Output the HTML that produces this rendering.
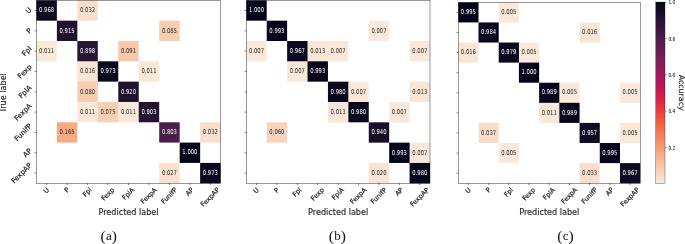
<!DOCTYPE html>
<html><head><meta charset="utf-8"><title>Confusion matrices</title>
<style>
html,body{margin:0;padding:0;background:#fff;}
body{width:685px;height:244px;overflow:hidden;}
svg{display:block;font-family:"DejaVu Sans","Liberation Sans",sans-serif;}
</style></head><body>
<svg width="685" height="244" viewBox="0 0 685 244">
<rect width="685" height="244" fill="#fff"/>
<rect x="36.40" y="0.35" width="20.47" height="20.32" fill="#0d0a21"/>
<rect x="77.33" y="0.35" width="20.47" height="20.32" fill="#f9dfcb"/>
<rect x="56.87" y="20.67" width="20.47" height="20.32" fill="#20122e"/>
<rect x="159.20" y="20.67" width="20.47" height="20.32" fill="#f7ccaf"/>
<rect x="36.40" y="40.99" width="20.47" height="20.32" fill="#fae8d8"/>
<rect x="77.33" y="40.99" width="20.47" height="20.82" fill="#271534"/>
<rect x="118.27" y="40.99" width="20.47" height="20.32" fill="#f7c9aa"/>
<rect x="77.33" y="61.32" width="20.97" height="20.82" fill="#f9e5d4"/>
<rect x="97.80" y="61.32" width="20.47" height="20.32" fill="#0a091f"/>
<rect x="138.73" y="61.32" width="20.47" height="20.32" fill="#fae8d8"/>
<rect x="77.33" y="81.64" width="20.47" height="20.82" fill="#f7cdb1"/>
<rect x="118.27" y="81.64" width="20.47" height="20.82" fill="#1e122d"/>
<rect x="77.33" y="101.96" width="20.97" height="20.32" fill="#fae8d8"/>
<rect x="97.80" y="101.96" width="20.97" height="20.32" fill="#f7cfb3"/>
<rect x="118.27" y="101.96" width="20.97" height="20.32" fill="#fae8d8"/>
<rect x="138.73" y="101.96" width="20.47" height="20.32" fill="#241432"/>
<rect x="56.87" y="122.28" width="20.47" height="20.32" fill="#f6ab83"/>
<rect x="159.20" y="122.28" width="20.47" height="20.32" fill="#4b1d4a"/>
<rect x="200.13" y="122.28" width="20.47" height="20.32" fill="#f9dfcb"/>
<rect x="179.67" y="142.61" width="20.47" height="20.32" fill="#03051a"/>
<rect x="159.20" y="162.93" width="20.47" height="20.32" fill="#f9e2d0"/>
<rect x="200.13" y="162.93" width="20.47" height="20.32" fill="#0a091f"/>
<text transform="translate(46.63,12.23) scale(0.8,1)" font-size="6.6" text-anchor="middle" fill="#ffffff" >0.968</text>
<text transform="translate(87.57,12.23) scale(0.8,1)" font-size="6.6" text-anchor="middle" fill="#262626" >0.032</text>
<text transform="translate(67.10,32.55) scale(0.8,1)" font-size="6.6" text-anchor="middle" fill="#ffffff" >0.915</text>
<text transform="translate(169.43,32.55) scale(0.8,1)" font-size="6.6" text-anchor="middle" fill="#262626" >0.085</text>
<text transform="translate(46.63,52.87) scale(0.8,1)" font-size="6.6" text-anchor="middle" fill="#262626" >0.011</text>
<text transform="translate(87.57,52.87) scale(0.8,1)" font-size="6.6" text-anchor="middle" fill="#ffffff" >0.898</text>
<text transform="translate(128.50,52.87) scale(0.8,1)" font-size="6.6" text-anchor="middle" fill="#262626" >0.091</text>
<text transform="translate(87.57,73.19) scale(0.8,1)" font-size="6.6" text-anchor="middle" fill="#262626" >0.016</text>
<text transform="translate(108.03,73.19) scale(0.8,1)" font-size="6.6" text-anchor="middle" fill="#ffffff" >0.973</text>
<text transform="translate(148.97,73.19) scale(0.8,1)" font-size="6.6" text-anchor="middle" fill="#262626" >0.011</text>
<text transform="translate(87.57,93.52) scale(0.8,1)" font-size="6.6" text-anchor="middle" fill="#262626" >0.080</text>
<text transform="translate(128.50,93.52) scale(0.8,1)" font-size="6.6" text-anchor="middle" fill="#ffffff" >0.920</text>
<text transform="translate(87.57,113.84) scale(0.8,1)" font-size="6.6" text-anchor="middle" fill="#262626" >0.011</text>
<text transform="translate(108.03,113.84) scale(0.8,1)" font-size="6.6" text-anchor="middle" fill="#262626" >0.075</text>
<text transform="translate(128.50,113.84) scale(0.8,1)" font-size="6.6" text-anchor="middle" fill="#262626" >0.011</text>
<text transform="translate(148.97,113.84) scale(0.8,1)" font-size="6.6" text-anchor="middle" fill="#ffffff" >0.903</text>
<text transform="translate(67.10,134.16) scale(0.8,1)" font-size="6.6" text-anchor="middle" fill="#262626" >0.165</text>
<text transform="translate(169.43,134.16) scale(0.8,1)" font-size="6.6" text-anchor="middle" fill="#ffffff" >0.803</text>
<text transform="translate(210.37,134.16) scale(0.8,1)" font-size="6.6" text-anchor="middle" fill="#262626" >0.032</text>
<text transform="translate(189.90,154.48) scale(0.8,1)" font-size="6.6" text-anchor="middle" fill="#ffffff" >1.000</text>
<text transform="translate(169.43,174.80) scale(0.8,1)" font-size="6.6" text-anchor="middle" fill="#262626" >0.027</text>
<text transform="translate(210.37,174.80) scale(0.8,1)" font-size="6.6" text-anchor="middle" fill="#ffffff" >0.973</text>
<rect x="36.40" y="0.35" width="184.20" height="182.90" fill="none" stroke="#000" stroke-width="0.4"/>
<path d="M46.63 183.25v1.8M36.40 10.51h-1.8" stroke="#000" stroke-width="0.5" fill="none"/>
<text transform="translate(46.22,193.71) rotate(-45)" font-size="6.5" text-anchor="start" fill="#262626" stroke="#262626" stroke-width="0.22">U</text>
<text transform="translate(28.54,13.98) rotate(-45)" font-size="7.0" text-anchor="start" fill="#262626" stroke="#262626" stroke-width="0.22">U</text>
<path d="M67.10 183.25v1.8M36.40 30.83h-1.8" stroke="#000" stroke-width="0.5" fill="none"/>
<text transform="translate(66.98,193.11) rotate(-45)" font-size="6.5" text-anchor="start" fill="#262626" stroke="#262626" stroke-width="0.22">P</text>
<text transform="translate(29.18,33.99) rotate(-45)" font-size="7.0" text-anchor="start" fill="#262626" stroke="#262626" stroke-width="0.22">P</text>
<path d="M87.57 183.25v1.8M36.40 51.16h-1.8" stroke="#000" stroke-width="0.5" fill="none"/>
<text transform="translate(85.41,197.18) rotate(-45)" font-size="6.5" text-anchor="start" fill="#262626" stroke="#262626" stroke-width="0.22">Fpl</text>
<text transform="translate(24.80,56.50) rotate(-45)" font-size="7.0" text-anchor="start" fill="#262626" stroke="#262626" stroke-width="0.22">Fpl</text>
<path d="M108.03 183.25v1.8M36.40 71.48h-1.8" stroke="#000" stroke-width="0.5" fill="none"/>
<text transform="translate(103.91,201.12) rotate(-45)" font-size="6.5" text-anchor="start" fill="#262626" stroke="#262626" stroke-width="0.22">Fexp</text>
<text transform="translate(20.55,78.94) rotate(-45)" font-size="7.0" text-anchor="start" fill="#262626" stroke="#262626" stroke-width="0.22">Fexp</text>
<path d="M128.50 183.25v1.8M36.40 91.80h-1.8" stroke="#000" stroke-width="0.5" fill="none"/>
<text transform="translate(124.77,200.33) rotate(-45)" font-size="6.5" text-anchor="start" fill="#262626" stroke="#262626" stroke-width="0.22">FplA</text>
<text transform="translate(21.41,98.84) rotate(-45)" font-size="7.0" text-anchor="start" fill="#262626" stroke="#262626" stroke-width="0.22">FplA</text>
<path d="M148.97 183.25v1.8M36.40 112.12h-1.8" stroke="#000" stroke-width="0.5" fill="none"/>
<text transform="translate(143.27,204.26) rotate(-45)" font-size="6.5" text-anchor="start" fill="#262626" stroke="#262626" stroke-width="0.22">FexpA</text>
<text transform="translate(17.17,121.28) rotate(-45)" font-size="7.0" text-anchor="start" fill="#262626" stroke="#262626" stroke-width="0.22">FexpA</text>
<path d="M169.43 183.25v1.8M36.40 132.44h-1.8" stroke="#000" stroke-width="0.5" fill="none"/>
<text transform="translate(163.75,204.23) rotate(-45)" font-size="6.5" text-anchor="start" fill="#262626" stroke="#262626" stroke-width="0.22">FunifP</text>
<text transform="translate(17.21,141.58) rotate(-45)" font-size="7.0" text-anchor="start" fill="#262626" stroke="#262626" stroke-width="0.22">FunifP</text>
<path d="M189.90 183.25v1.8M36.40 152.77h-1.8" stroke="#000" stroke-width="0.5" fill="none"/>
<text transform="translate(188.21,196.26) rotate(-45)" font-size="6.5" text-anchor="start" fill="#262626" stroke="#262626" stroke-width="0.22">AP</text>
<text transform="translate(25.79,157.61) rotate(-45)" font-size="7.0" text-anchor="start" fill="#262626" stroke="#262626" stroke-width="0.22">AP</text>
<path d="M210.37 183.25v1.8M36.40 173.09h-1.8" stroke="#000" stroke-width="0.5" fill="none"/>
<text transform="translate(203.28,207.04) rotate(-45)" font-size="6.5" text-anchor="start" fill="#262626" stroke="#262626" stroke-width="0.22">FexpAP</text>
<text transform="translate(14.18,183.74) rotate(-45)" font-size="7.0" text-anchor="start" fill="#262626" stroke="#262626" stroke-width="0.22">FexpAP</text>
<text x="128.50" y="215.0" font-size="8.1" text-anchor="middle" fill="#262626" stroke="#262626" stroke-width="0.15">Predicted label</text>
<text transform="translate(6.20,92.80) rotate(-90)" font-size="8.1" text-anchor="middle" fill="#262626" stroke="#262626" stroke-width="0.15">True label</text>
<text x="108.9" y="240.2" text-anchor="middle" fill="#111" letter-spacing="0.15" font-family="'Liberation Serif', serif"><tspan font-size="15.6" dy="0.8">(</tspan><tspan font-size="13.0" dy="-0.8">a</tspan><tspan font-size="15.6" dy="0.8">)</tspan></text>
<rect x="246.30" y="0.35" width="20.41" height="20.33" fill="#03051a"/>
<rect x="266.71" y="20.68" width="20.41" height="20.33" fill="#04051a"/>
<rect x="368.77" y="20.68" width="20.41" height="20.33" fill="#fae9da"/>
<rect x="246.30" y="41.01" width="20.41" height="20.33" fill="#fae9da"/>
<rect x="287.12" y="41.01" width="20.91" height="20.83" fill="#0d0a21"/>
<rect x="307.53" y="41.01" width="20.91" height="20.83" fill="#fae6d6"/>
<rect x="327.94" y="41.01" width="20.41" height="20.33" fill="#fae9da"/>
<rect x="409.59" y="41.01" width="20.41" height="20.33" fill="#fae9da"/>
<rect x="287.12" y="61.33" width="20.91" height="20.33" fill="#fae9da"/>
<rect x="307.53" y="61.33" width="20.41" height="20.33" fill="#04051a"/>
<rect x="327.94" y="81.66" width="20.91" height="20.83" fill="#08081e"/>
<rect x="348.36" y="81.66" width="20.41" height="20.83" fill="#fae9da"/>
<rect x="409.59" y="81.66" width="20.41" height="20.33" fill="#fae6d6"/>
<rect x="327.94" y="101.99" width="20.91" height="20.33" fill="#fae6d6"/>
<rect x="348.36" y="101.99" width="20.41" height="20.33" fill="#08081e"/>
<rect x="389.18" y="101.99" width="20.41" height="20.33" fill="#fae9da"/>
<rect x="266.71" y="122.32" width="20.41" height="20.33" fill="#f8d4bc"/>
<rect x="368.77" y="122.32" width="20.41" height="20.33" fill="#170f28"/>
<rect x="389.18" y="142.64" width="20.91" height="20.33" fill="#04051a"/>
<rect x="409.59" y="142.64" width="20.41" height="20.83" fill="#fae9da"/>
<rect x="368.77" y="162.97" width="20.41" height="20.33" fill="#f9e3d2"/>
<rect x="409.59" y="162.97" width="20.41" height="20.33" fill="#08081e"/>
<text transform="translate(256.51,12.23) scale(0.8,1)" font-size="6.6" text-anchor="middle" fill="#ffffff" >1.000</text>
<text transform="translate(276.92,32.56) scale(0.8,1)" font-size="6.6" text-anchor="middle" fill="#ffffff" >0.993</text>
<text transform="translate(378.97,32.56) scale(0.8,1)" font-size="6.6" text-anchor="middle" fill="#262626" >0.007</text>
<text transform="translate(256.51,52.89) scale(0.8,1)" font-size="6.6" text-anchor="middle" fill="#262626" >0.007</text>
<text transform="translate(297.33,52.89) scale(0.8,1)" font-size="6.6" text-anchor="middle" fill="#ffffff" >0.967</text>
<text transform="translate(317.74,52.89) scale(0.8,1)" font-size="6.6" text-anchor="middle" fill="#262626" >0.013</text>
<text transform="translate(338.15,52.89) scale(0.8,1)" font-size="6.6" text-anchor="middle" fill="#262626" >0.007</text>
<text transform="translate(419.79,52.89) scale(0.8,1)" font-size="6.6" text-anchor="middle" fill="#262626" >0.007</text>
<text transform="translate(297.33,73.21) scale(0.8,1)" font-size="6.6" text-anchor="middle" fill="#262626" >0.007</text>
<text transform="translate(317.74,73.21) scale(0.8,1)" font-size="6.6" text-anchor="middle" fill="#ffffff" >0.993</text>
<text transform="translate(338.15,93.54) scale(0.8,1)" font-size="6.6" text-anchor="middle" fill="#ffffff" >0.980</text>
<text transform="translate(358.56,93.54) scale(0.8,1)" font-size="6.6" text-anchor="middle" fill="#262626" >0.007</text>
<text transform="translate(419.79,93.54) scale(0.8,1)" font-size="6.6" text-anchor="middle" fill="#262626" >0.013</text>
<text transform="translate(338.15,113.87) scale(0.8,1)" font-size="6.6" text-anchor="middle" fill="#262626" >0.013</text>
<text transform="translate(358.56,113.87) scale(0.8,1)" font-size="6.6" text-anchor="middle" fill="#ffffff" >0.980</text>
<text transform="translate(399.38,113.87) scale(0.8,1)" font-size="6.6" text-anchor="middle" fill="#262626" >0.007</text>
<text transform="translate(276.92,134.20) scale(0.8,1)" font-size="6.6" text-anchor="middle" fill="#262626" >0.060</text>
<text transform="translate(378.97,134.20) scale(0.8,1)" font-size="6.6" text-anchor="middle" fill="#ffffff" >0.940</text>
<text transform="translate(399.38,154.52) scale(0.8,1)" font-size="6.6" text-anchor="middle" fill="#ffffff" >0.993</text>
<text transform="translate(419.79,154.52) scale(0.8,1)" font-size="6.6" text-anchor="middle" fill="#262626" >0.007</text>
<text transform="translate(378.97,174.85) scale(0.8,1)" font-size="6.6" text-anchor="middle" fill="#262626" >0.020</text>
<text transform="translate(419.79,174.85) scale(0.8,1)" font-size="6.6" text-anchor="middle" fill="#ffffff" >0.980</text>
<rect x="246.30" y="0.35" width="183.70" height="182.95" fill="none" stroke="#000" stroke-width="0.4"/>
<path d="M256.51 183.30v1.8M246.30 10.51h-1.8" stroke="#000" stroke-width="0.5" fill="none"/>
<text transform="translate(256.09,193.76) rotate(-45)" font-size="6.5" text-anchor="start" fill="#262626" stroke="#262626" stroke-width="0.22">U</text>
<path d="M276.92 183.30v1.8M246.30 30.84h-1.8" stroke="#000" stroke-width="0.5" fill="none"/>
<text transform="translate(276.79,193.16) rotate(-45)" font-size="6.5" text-anchor="start" fill="#262626" stroke="#262626" stroke-width="0.22">P</text>
<path d="M297.33 183.30v1.8M246.30 51.17h-1.8" stroke="#000" stroke-width="0.5" fill="none"/>
<text transform="translate(295.17,197.23) rotate(-45)" font-size="6.5" text-anchor="start" fill="#262626" stroke="#262626" stroke-width="0.22">Fpl</text>
<path d="M317.74 183.30v1.8M246.30 71.50h-1.8" stroke="#000" stroke-width="0.5" fill="none"/>
<text transform="translate(313.61,201.17) rotate(-45)" font-size="6.5" text-anchor="start" fill="#262626" stroke="#262626" stroke-width="0.22">Fexp</text>
<path d="M338.15 183.30v1.8M246.30 91.83h-1.8" stroke="#000" stroke-width="0.5" fill="none"/>
<text transform="translate(334.42,200.38) rotate(-45)" font-size="6.5" text-anchor="start" fill="#262626" stroke="#262626" stroke-width="0.22">FplA</text>
<path d="M358.56 183.30v1.8M246.30 112.15h-1.8" stroke="#000" stroke-width="0.5" fill="none"/>
<text transform="translate(352.86,204.31) rotate(-45)" font-size="6.5" text-anchor="start" fill="#262626" stroke="#262626" stroke-width="0.22">FexpA</text>
<path d="M378.97 183.30v1.8M246.30 132.48h-1.8" stroke="#000" stroke-width="0.5" fill="none"/>
<text transform="translate(373.29,204.28) rotate(-45)" font-size="6.5" text-anchor="start" fill="#262626" stroke="#262626" stroke-width="0.22">FunifP</text>
<path d="M399.38 183.30v1.8M246.30 152.81h-1.8" stroke="#000" stroke-width="0.5" fill="none"/>
<text transform="translate(397.69,196.31) rotate(-45)" font-size="6.5" text-anchor="start" fill="#262626" stroke="#262626" stroke-width="0.22">AP</text>
<path d="M419.79 183.30v1.8M246.30 173.14h-1.8" stroke="#000" stroke-width="0.5" fill="none"/>
<text transform="translate(412.71,207.09) rotate(-45)" font-size="6.5" text-anchor="start" fill="#262626" stroke="#262626" stroke-width="0.22">FexpAP</text>
<text x="338.15" y="215.0" font-size="8.1" text-anchor="middle" fill="#262626" stroke="#262626" stroke-width="0.15">Predicted label</text>
<text x="337.5" y="240.2" text-anchor="middle" fill="#111" letter-spacing="0.15" font-family="'Liberation Serif', serif"><tspan font-size="15.6" dy="0.8">(</tspan><tspan font-size="13.0" dy="-0.8">b</tspan><tspan font-size="15.6" dy="0.8">)</tspan></text>
<rect x="458.30" y="2.35" width="20.21" height="20.09" fill="#04051a"/>
<rect x="498.72" y="2.35" width="20.21" height="20.09" fill="#fae9da"/>
<rect x="478.51" y="22.44" width="20.21" height="20.09" fill="#07071d"/>
<rect x="579.57" y="22.44" width="20.21" height="20.09" fill="#f9e5d4"/>
<rect x="458.30" y="42.54" width="20.21" height="20.09" fill="#f9e5d4"/>
<rect x="498.72" y="42.54" width="20.71" height="20.09" fill="#08081e"/>
<rect x="518.93" y="42.54" width="20.21" height="20.59" fill="#fae9da"/>
<rect x="518.93" y="62.63" width="20.21" height="20.09" fill="#03051a"/>
<rect x="539.14" y="82.73" width="20.71" height="20.59" fill="#05061b"/>
<rect x="559.36" y="82.73" width="20.21" height="20.59" fill="#fae9da"/>
<rect x="619.99" y="82.73" width="20.21" height="20.09" fill="#fae9da"/>
<rect x="539.14" y="102.82" width="20.71" height="20.09" fill="#fae8d8"/>
<rect x="559.36" y="102.82" width="20.21" height="20.09" fill="#05061b"/>
<rect x="478.51" y="122.92" width="20.21" height="20.09" fill="#f9ddc9"/>
<rect x="579.57" y="122.92" width="20.21" height="20.09" fill="#110c24"/>
<rect x="619.99" y="122.92" width="20.21" height="20.09" fill="#fae9da"/>
<rect x="498.72" y="143.01" width="20.21" height="20.09" fill="#fae9da"/>
<rect x="599.78" y="143.01" width="20.21" height="20.09" fill="#04051a"/>
<rect x="579.57" y="163.11" width="20.21" height="20.09" fill="#f9dfcb"/>
<rect x="619.99" y="163.11" width="20.21" height="20.09" fill="#0d0a21"/>
<text transform="translate(468.41,14.11) scale(0.8,1)" font-size="6.6" text-anchor="middle" fill="#ffffff" >0.995</text>
<text transform="translate(508.83,14.11) scale(0.8,1)" font-size="6.6" text-anchor="middle" fill="#262626" >0.005</text>
<text transform="translate(488.62,34.21) scale(0.8,1)" font-size="6.6" text-anchor="middle" fill="#ffffff" >0.984</text>
<text transform="translate(589.67,34.21) scale(0.8,1)" font-size="6.6" text-anchor="middle" fill="#262626" >0.016</text>
<text transform="translate(468.41,54.30) scale(0.8,1)" font-size="6.6" text-anchor="middle" fill="#262626" >0.016</text>
<text transform="translate(508.83,54.30) scale(0.8,1)" font-size="6.6" text-anchor="middle" fill="#ffffff" >0.979</text>
<text transform="translate(529.04,54.30) scale(0.8,1)" font-size="6.6" text-anchor="middle" fill="#262626" >0.005</text>
<text transform="translate(529.04,74.40) scale(0.8,1)" font-size="6.6" text-anchor="middle" fill="#ffffff" >1.000</text>
<text transform="translate(549.25,94.49) scale(0.8,1)" font-size="6.6" text-anchor="middle" fill="#ffffff" >0.989</text>
<text transform="translate(569.46,94.49) scale(0.8,1)" font-size="6.6" text-anchor="middle" fill="#262626" >0.005</text>
<text transform="translate(630.09,94.49) scale(0.8,1)" font-size="6.6" text-anchor="middle" fill="#262626" >0.005</text>
<text transform="translate(549.25,114.59) scale(0.8,1)" font-size="6.6" text-anchor="middle" fill="#262626" >0.011</text>
<text transform="translate(569.46,114.59) scale(0.8,1)" font-size="6.6" text-anchor="middle" fill="#ffffff" >0.989</text>
<text transform="translate(488.62,134.68) scale(0.8,1)" font-size="6.6" text-anchor="middle" fill="#262626" >0.037</text>
<text transform="translate(589.67,134.68) scale(0.8,1)" font-size="6.6" text-anchor="middle" fill="#ffffff" >0.957</text>
<text transform="translate(630.09,134.68) scale(0.8,1)" font-size="6.6" text-anchor="middle" fill="#262626" >0.005</text>
<text transform="translate(508.83,154.77) scale(0.8,1)" font-size="6.6" text-anchor="middle" fill="#262626" >0.005</text>
<text transform="translate(609.88,154.77) scale(0.8,1)" font-size="6.6" text-anchor="middle" fill="#ffffff" >0.995</text>
<text transform="translate(589.67,174.87) scale(0.8,1)" font-size="6.6" text-anchor="middle" fill="#262626" >0.033</text>
<text transform="translate(630.09,174.87) scale(0.8,1)" font-size="6.6" text-anchor="middle" fill="#ffffff" >0.967</text>
<rect x="458.30" y="2.35" width="181.90" height="180.85" fill="none" stroke="#000" stroke-width="0.4"/>
<path d="M468.41 183.20v1.8M458.30 12.40h-1.8" stroke="#000" stroke-width="0.5" fill="none"/>
<text transform="translate(467.99,193.66) rotate(-45)" font-size="6.5" text-anchor="start" fill="#262626" stroke="#262626" stroke-width="0.22">U</text>
<path d="M488.62 183.20v1.8M458.30 32.49h-1.8" stroke="#000" stroke-width="0.5" fill="none"/>
<text transform="translate(488.49,193.06) rotate(-45)" font-size="6.5" text-anchor="start" fill="#262626" stroke="#262626" stroke-width="0.22">P</text>
<path d="M508.83 183.20v1.8M458.30 52.59h-1.8" stroke="#000" stroke-width="0.5" fill="none"/>
<text transform="translate(506.67,197.13) rotate(-45)" font-size="6.5" text-anchor="start" fill="#262626" stroke="#262626" stroke-width="0.22">Fpl</text>
<path d="M529.04 183.20v1.8M458.30 72.68h-1.8" stroke="#000" stroke-width="0.5" fill="none"/>
<text transform="translate(524.91,201.07) rotate(-45)" font-size="6.5" text-anchor="start" fill="#262626" stroke="#262626" stroke-width="0.22">Fexp</text>
<path d="M549.25 183.20v1.8M458.30 92.77h-1.8" stroke="#000" stroke-width="0.5" fill="none"/>
<text transform="translate(545.52,200.28) rotate(-45)" font-size="6.5" text-anchor="start" fill="#262626" stroke="#262626" stroke-width="0.22">FplA</text>
<path d="M569.46 183.20v1.8M458.30 112.87h-1.8" stroke="#000" stroke-width="0.5" fill="none"/>
<text transform="translate(563.76,204.21) rotate(-45)" font-size="6.5" text-anchor="start" fill="#262626" stroke="#262626" stroke-width="0.22">FexpA</text>
<path d="M589.67 183.20v1.8M458.30 132.96h-1.8" stroke="#000" stroke-width="0.5" fill="none"/>
<text transform="translate(583.99,204.18) rotate(-45)" font-size="6.5" text-anchor="start" fill="#262626" stroke="#262626" stroke-width="0.22">FunifP</text>
<path d="M609.88 183.20v1.8M458.30 153.06h-1.8" stroke="#000" stroke-width="0.5" fill="none"/>
<text transform="translate(608.19,196.21) rotate(-45)" font-size="6.5" text-anchor="start" fill="#262626" stroke="#262626" stroke-width="0.22">AP</text>
<path d="M630.09 183.20v1.8M458.30 173.15h-1.8" stroke="#000" stroke-width="0.5" fill="none"/>
<text transform="translate(623.01,206.99) rotate(-45)" font-size="6.5" text-anchor="start" fill="#262626" stroke="#262626" stroke-width="0.22">FexpAP</text>
<text x="549.25" y="215.0" font-size="8.1" text-anchor="middle" fill="#262626" stroke="#262626" stroke-width="0.15">Predicted label</text>
<text x="565.6" y="240.2" text-anchor="middle" fill="#111" letter-spacing="0.15" font-family="'Liberation Serif', serif"><tspan font-size="15.6" dy="0.8">(</tspan><tspan font-size="13.0" dy="-0.8">c</tspan><tspan font-size="15.6" dy="0.8">)</tspan></text>
<defs><linearGradient id="cb" x1="0" y1="0" x2="0" y2="1"><stop offset="0.0000" stop-color="#03051a"/><stop offset="0.0312" stop-color="#0b0920"/><stop offset="0.0625" stop-color="#170f28"/><stop offset="0.0938" stop-color="#221331"/><stop offset="0.1250" stop-color="#2e1739"/><stop offset="0.1562" stop-color="#3a1a41"/><stop offset="0.1875" stop-color="#461c48"/><stop offset="0.2188" stop-color="#531e4d"/><stop offset="0.2500" stop-color="#601f52"/><stop offset="0.2812" stop-color="#6d1f56"/><stop offset="0.3125" stop-color="#7a1f59"/><stop offset="0.3438" stop-color="#871e5b"/><stop offset="0.3750" stop-color="#951c5b"/><stop offset="0.4062" stop-color="#a3195b"/><stop offset="0.4375" stop-color="#b01759"/><stop offset="0.4688" stop-color="#bd1655"/><stop offset="0.5000" stop-color="#ca1a50"/><stop offset="0.5312" stop-color="#d5224a"/><stop offset="0.5625" stop-color="#de2e44"/><stop offset="0.5938" stop-color="#e63b40"/><stop offset="0.6250" stop-color="#ec4a3e"/><stop offset="0.6562" stop-color="#ef5a41"/><stop offset="0.6875" stop-color="#f26948"/><stop offset="0.7188" stop-color="#f37852"/><stop offset="0.7500" stop-color="#f4865e"/><stop offset="0.7812" stop-color="#f5946b"/><stop offset="0.8125" stop-color="#f6a178"/><stop offset="0.8438" stop-color="#f6ae87"/><stop offset="0.8750" stop-color="#f6bb97"/><stop offset="0.9062" stop-color="#f7c7a8"/><stop offset="0.9375" stop-color="#f8d3ba"/><stop offset="0.9688" stop-color="#f9dfcb"/><stop offset="1.0000" stop-color="#faebdd"/></linearGradient></defs>
<rect x="655.8" y="2.05" width="9.20" height="181.15" fill="url(#cb)" stroke="#000" stroke-width="0.3"/>
<path d="M665.0 2.25h1.6" stroke="#000" stroke-width="0.4"/>
<text transform="translate(668.4,4.36) scale(0.78,1)" font-size="5.5" fill="#262626" stroke="#262626" stroke-width="0.1">1.0</text>
<path d="M665.0 38.5h1.6" stroke="#000" stroke-width="0.4"/>
<text transform="translate(668.4,40.61) scale(0.78,1)" font-size="5.5" fill="#262626" stroke="#262626" stroke-width="0.1">0.8</text>
<path d="M665.0 74.75h1.6" stroke="#000" stroke-width="0.4"/>
<text transform="translate(668.4,76.86) scale(0.78,1)" font-size="5.5" fill="#262626" stroke="#262626" stroke-width="0.1">0.6</text>
<path d="M665.0 111.2h1.6" stroke="#000" stroke-width="0.4"/>
<text transform="translate(668.4,113.31) scale(0.78,1)" font-size="5.5" fill="#262626" stroke="#262626" stroke-width="0.1">0.4</text>
<path d="M665.0 147.6h1.6" stroke="#000" stroke-width="0.4"/>
<text transform="translate(668.4,149.71) scale(0.78,1)" font-size="5.5" fill="#262626" stroke="#262626" stroke-width="0.1">0.2</text>
<text transform="translate(678.60,92.70) rotate(90)" font-size="7.9" text-anchor="middle" fill="#262626" stroke="#262626" stroke-width="0.15">Accuracy</text>
</svg>
</body></html>
